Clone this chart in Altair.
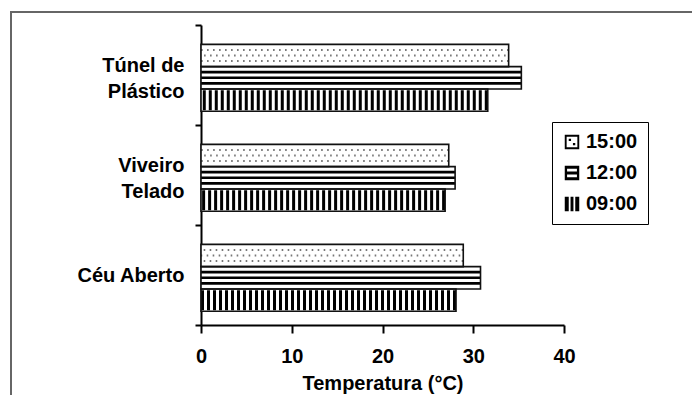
import json
import altair as alt
import pandas as pd

categories = ["Túnel de Plástico", "Viveiro Telado", "Céu Aberto"]
category_lines = [["Túnel de", "Plástico"], ["Viveiro", "Telado"], ["Céu Aberto"]]
times = ["15:00", "12:00", "09:00"]
temp_1500 = [33.9, 27.3, 28.9]
temp_1200 = [35.3, 28.0, 30.8]
temp_0900 = [31.6, 26.9, 28.1]
x_ticks = [0, 10, 20, 30, 40]
x_title = "Temperatura (°C)"

series = {"15:00": temp_1500, "12:00": temp_1200, "09:00": temp_0900}
rows = [{"local": c, "hora": t, "temp": series[t][i]}
        for i, c in enumerate(categories) for t in times]
df = pd.DataFrame(rows)

FONT = "Liberation Sans"

label_expr = ""
for c, lines in zip(categories[:-1], category_lines[:-1]):
    label_expr += f"datum.value == {json.dumps(c, ensure_ascii=False)} ? {json.dumps(lines, ensure_ascii=False)} : "
label_expr += "datum.value"

y_enc = alt.Y(
    "local:N", sort=categories,
    scale=alt.Scale(domain=categories, paddingInner=0, paddingOuter=0),
    axis=alt.Axis(title=None, tickBand="extent", labelExpr=label_expr,
                  labelLineHeight=26, labelPadding=11, tickSize=6,
                  labelAlign="right", labelBaseline="middle",
                  labelOffset={"condition": {"test": "datum.value != 'Céu Aberto'", "value": -10},
                               "value": 0}),
)
yoff = alt.YOffset(
    "hora:N", sort=times,
    scale=alt.Scale(domain=times, paddingInner=0, paddingOuter=0.74, align=0.585),
)
x_enc = alt.X(
    "temp:Q",
    scale=alt.Scale(domain=[0, 40], nice=False, zero=True),
    axis=alt.Axis(values=x_ticks, title=x_title, tickSize=8, labelPadding=13,
                  titlePadding=7, grid=False, labelFlush=False),
)

base = alt.Chart(df).encode(x=x_enc, y=y_enc, yOffset=yoff)

fill_bars = base.mark_bar(color="white")

f09 = base.transform_filter(alt.datum.hora == "09:00")
f12 = base.transform_filter(alt.datum.hora == "12:00")
f15 = base.transform_filter(alt.datum.hora == "15:00")

p09 = f09.mark_rule(color="black", strokeWidth=20, strokeDash=[3, 3]).encode(x2=alt.datum(0))

p12a = f12.mark_rule(color="black", strokeWidth=14).encode(x2=alt.datum(0))
p12b = f12.mark_rule(color="white", strokeWidth=8.6).encode(x2=alt.datum(0))
p12c = f12.mark_rule(color="black", strokeWidth=2.6).encode(x2=alt.datum(0))

p15a = f15.mark_rule(color="#777777", strokeWidth=13, strokeDash=[1.6, 4.4]).encode(x2=alt.datum(0))
p15b = f15.mark_rule(color="white", strokeWidth=9).encode(x2=alt.datum(0))
p15c = f15.mark_rule(color="#777777", strokeWidth=1.8, strokeDash=[1.6, 4.4],
                     strokeDashOffset=3).encode(x2=alt.datum(0))

outline = base.mark_bar(fillOpacity=0, stroke="#111111", strokeWidth=1.6)

path15 = ("M-1,-1H1V1H-1Z M-0.74,-0.74V0.74H0.74V-0.74Z "
          "M-0.45,-0.45h0.32v0.32h-0.32Z M0.13,0.13h0.32v0.32h-0.32Z")
path12 = ("M-1,-1H1V-0.6H-1Z M-1,-0.2H1V0.2H-1Z M-1,0.6H1V1H-1Z "
          "M-1,-1H-0.68V1H-1Z M0.68,-1H1V1H0.68Z")
path09 = "M-1,-1H-0.45V1H-1Z M-0.2,-1H0.2V1H-0.2Z M0.45,-1H1V1H0.45Z"

legend_layer = base.mark_point(filled=True, color="black", opacity=0).encode(
    shape=alt.Shape(
        "hora:N", sort=times,
        scale=alt.Scale(domain=times, range=[path15, path12, path09]),
        legend=alt.Legend(
            title=None, orient="none", legendX=351, legendY=97,
            strokeColor="black", padding=10, rowPadding=11,
            symbolSize=210, symbolOpacity=1, symbolFillColor="black",
            symbolStrokeColor="black", symbolStrokeWidth=0,
            labelFont=FONT, labelFontSize=20, labelFontWeight="bold",
            labelColor="black", labelOffset=4,
        ),
    )
)

frame = alt.Chart(alt.Data(values=[{}])).mark_rect(
    fillOpacity=0, stroke="#666666", strokeWidth=2
).encode(x=alt.value(-190), x2=alt.value(510), y=alt.value(-13), y2=alt.value(390))

chart = alt.layer(
    frame, fill_bars, p09, p12a, p12b, p12c, p15a, p15b, p15c, outline, legend_layer
).properties(
    width=363, height=300,
    padding={"left": 193, "top": 17, "right": 128, "bottom": 70},
    autosize=alt.AutoSizeParams(type="none"),
    background="white",
).configure_view(stroke="transparent").configure_axis(
    domainColor="black", domainWidth=2, tickColor="black", tickWidth=2,
    labelColor="black", labelFont=FONT, labelFontSize=20, labelFontWeight="bold",
    titleFont=FONT, titleFontSize=20, titleFontWeight="bold", titleColor="black",
    grid=False,
)

chart.save("out.html", embed_options={"renderer": "svg", "actions": False})
